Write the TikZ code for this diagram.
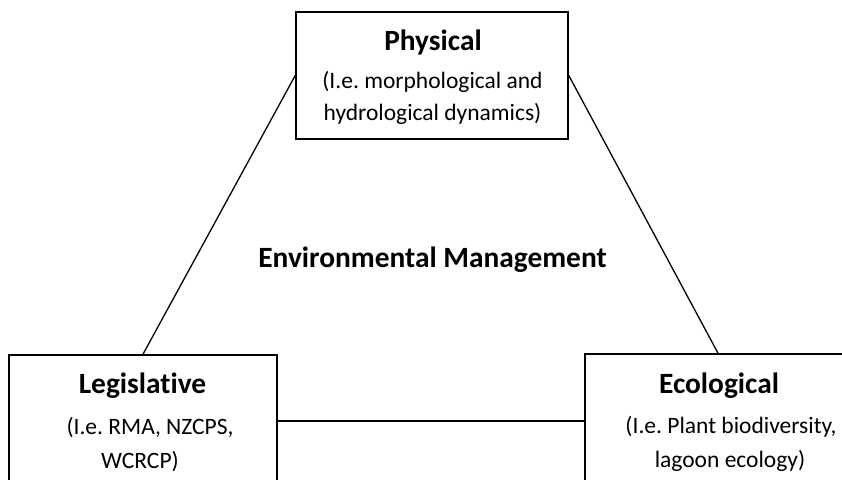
\documentclass[tikz,border=0pt]{standalone}
\usepackage{fontspec}
\setmainfont{Carlito}[Ligatures=NoCommon]
\begin{document}
\frenchspacing
\begin{tikzpicture}[x=1pt,y=-1pt,
  panel/.style={draw, line width=1.6pt, inner sep=0pt},
  link/.style={line width=1.3pt},
  heading/.style={anchor=base, inner sep=0pt, font=\fontsize{29.4}{34}\selectfont\bfseries},
  detail/.style={anchor=base, inner sep=0pt, font=\fontsize{23.5}{32}\selectfont}]
\useasboundingbox (0,0) rectangle (842,479);
\clip (0,0) rectangle (842,479);

% the three boxes
\node[panel, minimum width=272pt, minimum height=127pt] (phys) at (432,75.5) {};
\node[panel, minimum width=268pt, minimum height=132pt] (legis) at (143,421) {};
\node[panel, minimum width=266pt, minimum height=134pt] (eco) at (718,421) {};

% connectors forming the triangle
\draw[link] (phys.west) -- (legis.north);
\draw[link] (phys.east) -- (eco.north);
\draw[link] (legis.east) -- (eco.west);

% box texts
\node[heading] (physT) at (433,50) {Physical};
\node[detail] (physA) at (432.5,88) {(I.e. morphological and};
\node[detail] (physB) at (432.5,120) {hydrological dynamics)};

\node[heading] (legisT) at (142.5,393) {Legislative};
\node[detail] (legisA) at (150,434) {(I.e. RMA, NZCPS,};
\node[detail] (legisB) at (140,468) {WCRCP)};

\node[heading] (ecoT) at (719,393) {Ecological};
\node[detail] (ecoA) at (731,433) {(I.e. Plant biodiversity,};
\node[detail] (ecoB) at (730,467) {lagoon ecology)};

% centre label
\node[heading] (centre) at (432.5,267) {Environmental Management};
\end{tikzpicture}
\end{document}
